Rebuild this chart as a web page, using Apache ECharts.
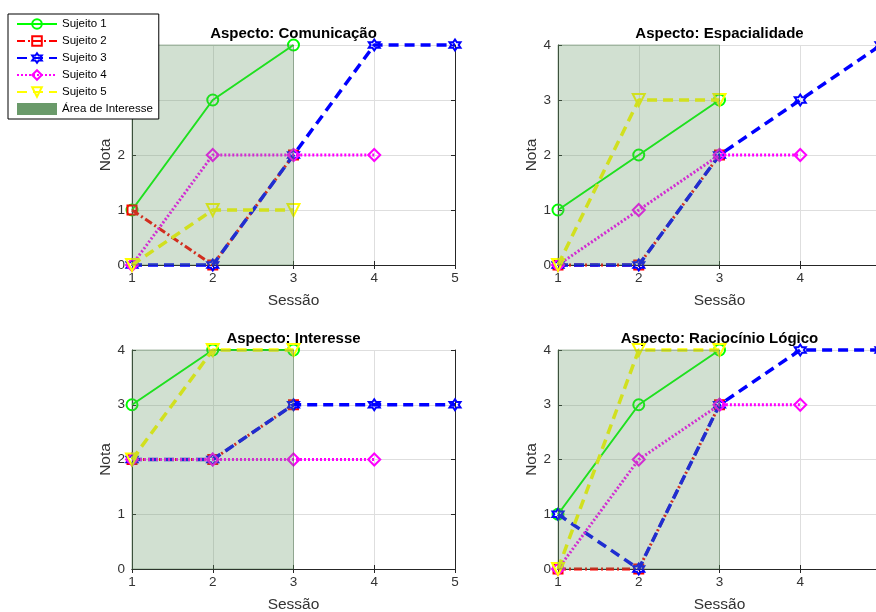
<!DOCTYPE html>
<html><head><meta charset="utf-8">
<script src="https://cdn.jsdelivr.net/npm/echarts@6/dist/echarts.min.js"></script>
<style>html,body{margin:0;padding:0;background:#fff}#c{width:876px;height:612px}</style>
</head><body><div id="c"></div>
<script>
// ---- data ----
const sessoes = [1, 2, 3, 4, 5];
const notaMin = 0, notaMax = 4;
const aspectos = ['Aspecto: Comunicação', 'Aspecto: Espacialidade', 'Aspecto: Interesse', 'Aspecto: Raciocínio Lógico'];
const sujeitos = ['Sujeito 1', 'Sujeito 2', 'Sujeito 3', 'Sujeito 4', 'Sujeito 5'];
const comunicacao   = [[1, 3, 4], [1, 0, 2], [0, 0, 2, 4, 4], [0, 2, 2, 2], [0, 1, 1]];
const espacialidade = [[1, 2, 3], [0, 0, 2], [0, 0, 2, 3, 4], [0, 1, 2, 2], [0, 3, 3]];
const interesse     = [[3, 4, 4], [2, 2, 3], [2, 2, 3, 3, 3], [2, 2, 2, 2], [2, 4, 4]];
const raciocinio    = [[1, 3, 4], [0, 0, 3], [1, 0, 3, 4, 4], [0, 2, 3, 3], [0, 4, 4]];
const areaInteresse = [1, 3];
const areaNome = 'Área de Interesse';

// ---- styles ----
const FONT = 'Liberation Sans, Arial, sans-serif';
const AX = '#262626';
const hexagram = 'path://M0,-10L2.89,-5L8.66,-5L5.77,0L8.66,5L2.89,5L0,10L-2.89,5L-8.66,5L-5.77,0L-8.66,-5L-2.89,-5Z';
const estilos = [
  { color: '#00ff00', type: 'solid', width: 2, symbol: 'circle', size: 11, rotate: 0 },
  { color: '#ff0000', type: [8, 3, 2, 3], width: 3, symbol: 'rect', size: 9, rotate: 0 },
  { color: '#0000ff', type: [10, 6], width: 3.5, symbol: hexagram, size: 11, rotate: 0 },
  { color: '#ff00ff', type: [2, 2], width: 3, symbol: 'diamond', size: 12, rotate: 0 },
  { color: '#ffff00', type: [10, 6], width: 3.5, symbol: 'triangle', size: 12, rotate: 180 }
];
const grids = [
  { left: 132, top: 45, width: 323, height: 220 },
  { left: 558, top: 45, width: 323, height: 220 },
  { left: 132, top: 350, width: 323, height: 219 },
  { left: 558, top: 350, width: 323, height: 219 }
];
const aspectData = [comunicacao, espacialidade, interesse, raciocinio];

const xAxes = [], yAxes = [], series = [], titles = [];
grids.forEach((g, i) => {
  const tick = { show: true, inside: true, length: 4, lineStyle: { color: AX } };
  xAxes.push({
    gridIndex: i, type: 'value', min: sessoes[0], max: sessoes[sessoes.length - 1], interval: 1,
    name: 'Sessão', nameLocation: 'middle', nameGap: 28,
    nameTextStyle: { fontFamily: FONT, fontSize: 15.5, color: '#333' },
    axisLine: { show: true, lineStyle: { color: AX } },
    axisTick: tick,
    axisLabel: { fontFamily: FONT, fontSize: 13.5, color: '#333', margin: 6 },
    splitLine: { show: true, lineStyle: { color: '#dedede' } }
  });
  xAxes.push({
    gridIndex: i, type: 'value', position: 'top', min: sessoes[0], max: sessoes[sessoes.length - 1], interval: 1,
    axisLine: { show: true, lineStyle: { color: AX } }, axisTick: tick,
    axisLabel: { show: false }, splitLine: { show: false }
  });
  yAxes.push({
    gridIndex: i, type: 'value', min: notaMin, max: notaMax, interval: 1,
    name: 'Nota', nameLocation: 'middle', nameGap: 18,
    nameTextStyle: { fontFamily: FONT, fontSize: 15.5, color: '#333' },
    axisLine: { show: true, lineStyle: { color: AX } },
    axisTick: tick,
    axisLabel: { fontFamily: FONT, fontSize: 13.5, color: '#333', margin: 7 },
    splitLine: { show: true, lineStyle: { color: '#dedede' } }
  });
  yAxes.push({
    gridIndex: i, type: 'value', position: 'right', min: notaMin, max: notaMax, interval: 1,
    axisLine: { show: true, lineStyle: { color: AX } }, axisTick: tick,
    axisLabel: { show: false }, splitLine: { show: false }
  });
  titles.push({
    text: aspectos[i], left: g.left + g.width / 2, top: g.top - 18.5, textAlign: 'center', padding: 0,
    textStyle: { fontFamily: FONT, fontSize: 15, fontWeight: 'bold', color: '#000' }
  });
  aspectData[i].forEach((vals, s) => {
    const st = estilos[s];
    series.push({
      name: sujeitos[s], type: 'line', xAxisIndex: 2 * i, yAxisIndex: 2 * i,
      data: vals.map((v, k) => [sessoes[k], v]),
      symbol: st.symbol, symbolSize: st.size, symbolRotate: st.rotate,
      showAllSymbol: true, clip: false, z: 3 + s,
      lineStyle: { color: st.color, width: st.width, type: st.type },
      itemStyle: { color: 'rgba(255,255,255,0)', borderColor: st.color, borderWidth: 2 },
      emphasis: { disabled: true }
    });
  });
  series.push({
    name: areaNome, type: 'custom', xAxisIndex: 2 * i, yAxisIndex: 2 * i, z: 20, silent: true,
    data: [[areaInteresse[0], areaInteresse[1], notaMin, notaMax]],
    encode: { x: [0, 1], y: [2, 3] },
    itemStyle: { color: '#6a9a6a' },
    renderItem: (params, api) => {
      const a = api.coord([api.value(0), api.value(3)]);
      const b = api.coord([api.value(1), api.value(2)]);
      return {
        type: 'rect',
        shape: { x: a[0], y: a[1], width: b[0] - a[0], height: b[1] - a[1] },
        style: { fill: 'rgba(102,153,102,0.3)', stroke: 'rgba(70,110,70,0.45)', lineWidth: 1 }
      };
    }
  });
});

const chart = echarts.init(document.getElementById('c'), null, { renderer: 'canvas' });
chart.setOption({
  animation: false,
  backgroundColor: '#fff',
  title: titles,
  grid: grids.map(g => Object.assign({ show: true, backgroundColor: '#fff', borderColor: AX, borderWidth: 0, containLabel: false, outerBoundsMode: 'none' }, g)),
  xAxis: xAxes,
  yAxis: yAxes,
  legend: {
    left: 8, top: 14, orient: 'vertical', z: 100,
    backgroundColor: '#fff', borderColor: '#000', borderWidth: 1,
    padding: [4, 6, 4, 8], itemGap: 5, itemWidth: 40, itemHeight: 12,
    textStyle: { fontFamily: FONT, fontSize: 11.5, color: '#000' },
    data: sujeitos.concat([{ name: areaNome, icon: 'rect' }]),
    selectedMode: false
  },
  series: series
});
</script></body></html>
